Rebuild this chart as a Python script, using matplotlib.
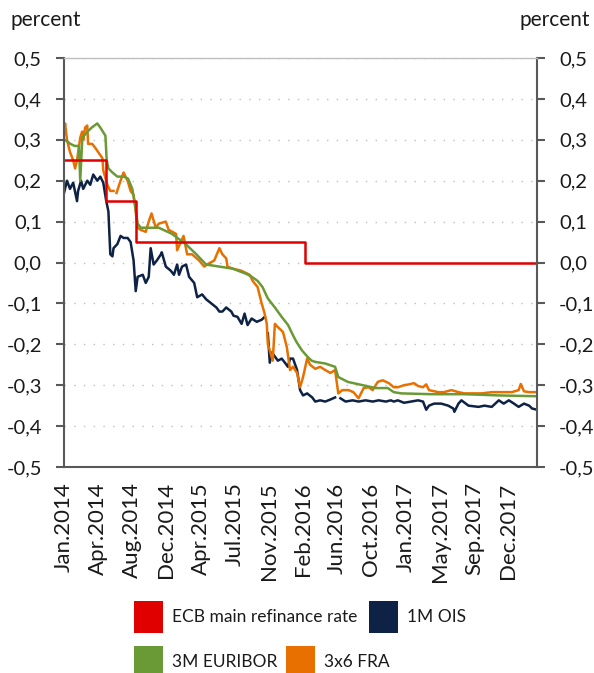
import matplotlib
matplotlib.use("Agg")
import numpy as np
import matplotlib.pyplot as plt
from matplotlib.patches import Rectangle
from matplotlib.ticker import FixedLocator, FuncFormatter

plt.rcParams['font.family'] = ['Lato', 'DejaVu Sans']

###--- data (x = weeks since start of Jan 2014) ---###
tick_weeks = [0, 16, 32, 48, 64, 80, 96, 112, 128, 144, 160, 176, 192, 208]
tick_labels = ["Jan.2014", "Apr.2014", "Aug.2014", "Dec.2014", "Apr.2015", "Jul.2015", "Nov.2015",
               "Feb.2016", "Jun.2016", "Oct.2016", "Jan.2017", "May.2017", "Sep.2017", "Dec.2017"]

ecb_weeks = [0, 19.8, 33.6, 113, 221.6]
ecb_rate = [0.25, 0.15, 0.05, 0.00, 0.00]

ois_weeks = [0, 1.4, 2.8, 4.3, 6.1, 6.6, 8, 9, 10.9, 12.3, 13.7, 15.6, 17, 18.4, 19.8, 20.8, 21.7, 22.7,
             23.2, 25, 26.5, 27.9, 29.8, 31.2, 32.6, 33.6, 34.5, 36.9, 38.3, 39.7, 40.6, 42, 43.5, 45.4,
             45.8, 47.7, 50, 51.5, 53, 53.9, 55.3, 57.2, 58.6, 61, 62.4, 64.7, 66.6, 69, 71.4, 72.8, 74.2,
             76, 78.4, 79.4, 81.3, 83.2, 84.6, 86, 87.9, 90.3, 92.6, 94, 94.8, 95.5, 96.4, 97.4, 98.8,
             100.2, 102, 103.5, 104.9, 105.9, 107.3, 109.2, 110.6, 112, 113.9, 116.3, 117.7, 120, 122.4,
             124.8, 127, 128.2, 129.5, 131.9, 135.2, 138, 141.3, 144.6, 147.4, 150.8, 153.1, 154.5, 156.4,
             159.3, 162.6, 165.9, 168.2, 169.7, 171, 173.4, 176.7, 180, 182.4, 182.9, 184.8, 186.2, 189.5,
             194.2, 197, 200.4, 203.7, 206, 208.4, 210.8, 213, 215.5, 217.9, 219.3, 221.6]
ois_rate = [0.17, 0.20, 0.18, 0.195, 0.15, 0.175, 0.20, 0.18, 0.20, 0.19, 0.215, 0.20, 0.21, 0.195, 0.15,
            0.125, 0.02, 0.015, 0.035, 0.045, 0.065, 0.06, 0.06, 0.05, 0.005, -0.07, -0.035, -0.03, -0.05,
            -0.035, 0.035, -0.005, 0.005, 0.02, 0.025, -0.01, -0.02, -0.03, -0.005, -0.03, -0.01, -0.005,
            -0.035, -0.05, -0.085, -0.078, -0.09, -0.10, -0.11, -0.12, -0.12, -0.11, -0.12, -0.13, -0.133,
            -0.15, -0.125, -0.153, -0.137, -0.145, -0.14, -0.133, np.nan, -0.173, -0.245, -0.22, -0.23,
            -0.24, -0.235, -0.245, -0.255, -0.235, -0.235, -0.263, -0.312, -0.325, -0.32, -0.33, -0.34,
            -0.337, -0.34, -0.335, -0.33, np.nan, -0.332, -0.34, -0.337, -0.34, -0.337, -0.34, -0.337,
            -0.34, -0.337, -0.34, -0.337, -0.343, -0.34, -0.337, -0.34, -0.36, -0.35, -0.345, -0.345,
            -0.35, -0.357, -0.365, -0.345, -0.337, -0.35, -0.353, -0.35, -0.353, -0.337, -0.345, -0.337,
            -0.345, -0.353, -0.345, -0.35, -0.357, -0.36]

euribor_weeks = [0, 1, 3, 5, 7, 7.6, 8.6, 11, 13, 15.6, 17, 19.4, 20, 20.8, 22.7, 25, 28, 30, 32, 33.5,
                 34.5, 36, 40, 44.4, 50.6, 57, 62, 66.6, 72.8, 79, 85.5, 88, 90.7, 93, 95.5, 98.8, 102,
                 105, 107.3, 109, 111.5, 114, 116, 117.7, 122.4, 127, 128.5, 133, 140, 146, 151.7, 154.5,
                 158, 172, 187.6, 203.7, 221.6]
euribor_rate = [0.30, 0.298, 0.29, 0.285, 0.285, 0.20, 0.305, 0.32, 0.33, 0.34, 0.33, 0.31, 0.25, 0.23,
                0.22, 0.21, 0.21, 0.205, 0.18, 0.135, 0.095, 0.085, 0.085, 0.085, 0.07, 0.045, 0.02,
                -0.005, -0.01, -0.015, -0.028, -0.035, -0.045, -0.06, -0.088, -0.11, -0.133, -0.153,
                -0.178, -0.195, -0.215, -0.23, -0.24, -0.243, -0.247, -0.255, -0.28, -0.292, -0.30,
                -0.307, -0.307, -0.317, -0.32, -0.322, -0.322, -0.325, -0.327]

fra_weeks = [0, 0.5, 1.4, 2.8, 4.3, 5.2, 6.1, 7.6, 8.5, 9, 9.9, 10.9, 11.3, 13.2, 14.7, 16, 18, 18.4, 20.3,
             21.7, 23.2, 24, 24.6, 26.5, 27.9, 29.8, 31.2, 32.6, 34.5, 35.9, 38.3, 39.7, 41, 43, 44.4,
             47.7, 49, 52.5, 53, 56, 57.7, 60, 63.3, 65.7, 67, 70.4, 72.8, 74.2, 76, 76.6, 79, 83, 87,
             88.4, 90.7, 92.6, 94, 95, 95.5, 96.4, 97.8, 98.8, 100.2, 102.6, 104.4, 105.9, 107.3, 109.2,
             110.6, 112, 113.9, 115.3, 117.7, 120, 122.4, 124.8, 127, 128.5, 130.4, 133.3, 135.6, 138,
             140.4, 142.7, 144.6, 147, 149.3, 152.2, 154.5, 156.4, 159.3, 161.6, 164, 165.9, 168.2, 169.7,
             171, 175.3, 178, 181.5, 184.8, 187.6, 191, 195.7, 200.4, 205, 209.8, 213, 214, 215.5, 217.9,
             221.6]
fra_rate = [0.315, 0.34, 0.30, 0.27, 0.25, 0.23, 0.25, 0.305, 0.32, 0.30, 0.33, 0.335, 0.29, 0.29, 0.28,
            0.27, 0.255, 0.225, 0.19, 0.175, 0.175, np.nan, 0.17, 0.20, 0.22, 0.20, 0.175, 0.165, 0.085,
            0.08, 0.075, 0.10, 0.12, 0.085, 0.095, 0.10, 0.08, 0.07, 0.03, 0.065, 0.02, 0.02, 0.005, -0.01,
            -0.005, 0.005, 0.035, 0.02, 0.01, -0.01, -0.015, -0.02, -0.03, -0.045, -0.06, -0.10, -0.125,
            -0.15, -0.20, -0.215, -0.24, -0.15, -0.158, -0.17, -0.207, -0.263, -0.255, -0.27, -0.305,
            -0.28, -0.235, -0.25, -0.26, -0.255, -0.263, -0.27, -0.263, -0.32, -0.312, -0.312, -0.317,
            -0.332, -0.307, -0.305, -0.312, -0.292, -0.288, -0.295, -0.305, -0.305, -0.30, -0.298, -0.295,
            -0.302, -0.305, -0.298, -0.312, -0.317, -0.317, -0.312, -0.317, -0.32, -0.32, -0.32, -0.317,
            -0.317, -0.317, -0.312, -0.297, -0.315, -0.317, -0.317]

c_red = "#E00000"
c_navy = "#0E2245"
c_green = "#6A9A35"
c_orange = "#E87000"
c_axis = "#595959"
c_text = "#1A1A1A"

###--- plot ---###
fig = plt.figure(figsize=(5.94, 6.73), dpi=100)
ax = fig.add_axes([64/594, 1-467/673, 473/594, 409/673])

ax.plot(ois_weeks, ois_rate, color=c_navy, lw=1.8)
ax.plot(fra_weeks, fra_rate, color=c_orange, lw=1.8)
ax.plot(euribor_weeks, euribor_rate, color=c_green, lw=1.8)
ax.plot(ecb_weeks, ecb_rate, color=c_red, lw=1.8, drawstyle='steps-post')

ax.set_xlim(0, 221.6)
ax.set_ylim(-0.5, 0.5)
ax.yaxis.set_major_locator(FixedLocator(np.arange(-0.5, 0.51, 0.1)))
ax.yaxis.set_major_formatter(FuncFormatter(lambda v, p: ("%.1f" % v).replace(".", ",").replace("-0,0", "0,0")))
ax.xaxis.set_major_locator(FixedLocator(tick_weeks))
ax.set_xticklabels(tick_labels)

ax.yaxis.grid(True, color="#BFBFBF", linestyle=(0, (1, 6)), linewidth=1)
ax.set_axisbelow(True)
for s in ["left", "right", "bottom"]:
    ax.spines[s].set_color(c_axis)
    ax.spines[s].set_linewidth(1.5)
ax.spines["top"].set_color("#BFBFBF")
ax.spines["top"].set_linewidth(1)

ax.tick_params(axis='y', left=True, right=True, labelleft=True, labelright=True, length=6, width=1.5,
               color=c_axis, pad=10, labelsize=14.5, labelcolor=c_text)
ax.tick_params(axis='x', length=0, pad=11, labelsize=16, labelcolor=c_text, labelrotation=90)

fig.text(10/594, 1-20/673, "percent", fontsize=15, color=c_text, va='center', ha='left')
fig.text(590/594, 1-20/673, "percent", fontsize=15, color=c_text, va='center', ha='right')

###--- legend ---###
leg = [(134, 601, c_red, "ECB main refinance rate"), (369, 601, c_navy, "1M OIS"),
       (134, 646, c_green, "3M EURIBOR"), (286, 646, c_orange, "3x6 FRA")]
for x0, y0, col, lab in leg:
    fig.add_artist(Rectangle((x0/594, 1-(y0+32)/673), 29/594, 32/673, transform=fig.transFigure,
                             facecolor=col, edgecolor='none'))
    fig.text((x0+38)/594, 1-(y0+16)/673, lab, fontsize=12.5, color=c_text, va='center', ha='left')

fig.savefig("out.png", dpi=100)
